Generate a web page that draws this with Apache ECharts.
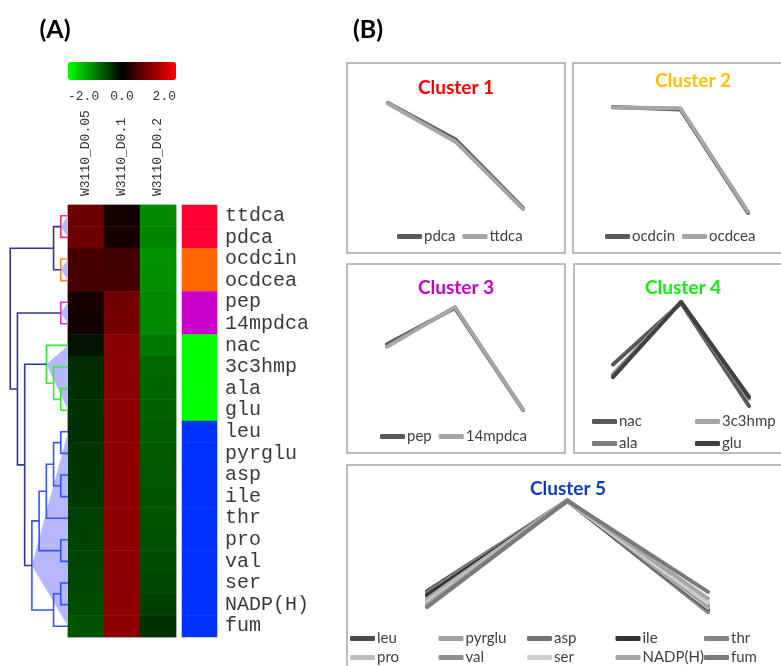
<!DOCTYPE html>
<html>
<head>
<meta charset="utf-8">
<script src="https://cdn.jsdelivr.net/npm/echarts@6/dist/echarts.min.js"></script>
<style>
  html, body { margin: 0; padding: 0; background: #fff; }
  #main { width: 781px; height: 666px; }
</style>
</head>
<body>
<div id="main"></div>
<script>
// ---- data ----
const metabolites = ['ttdca', 'pdca', 'ocdcin', 'ocdcea', 'pep', '14mpdca', 'nac', '3c3hmp', 'ala', 'glu',
  'leu', 'pyrglu', 'asp', 'ile', 'thr', 'pro', 'val', 'ser', 'NADP(H)', 'fum'];
const conditions = ['W3110_D0.05', 'W3110_D0.1', 'W3110_D0.2'];
const valD005 = [0.84, 0.85, 0.56, 0.55, 0.19, 0.14, -0.14, -0.33, -0.36, -0.39,
  -0.38, -0.41, -0.42, -0.45, -0.50, -0.52, -0.55, -0.56, -0.60, -0.64];
const valD01 = [0.15, 0.19, 0.52, 0.54, 0.89, 0.91, 1.08, 1.10, 1.10, 1.10,
  1.10, 1.11, 1.10, 1.09, 1.10, 1.11, 1.10, 1.09, 1.10, 1.10];
const valD02 = [-1.07, -1.05, -1.15, -1.13, -1.08, -1.07, -0.96, -0.82, -0.80, -0.78,
  -0.72, -0.71, -0.69, -0.67, -0.66, -0.64, -0.61, -0.58, -0.50, -0.39];
const clusterOf = [1, 1, 2, 2, 3, 3, 4, 4, 4, 4, 5, 5, 5, 5, 5, 5, 5, 5, 5, 5];
const scaleTicks = [-2, 0, 2];

const clusterNames = ['Cluster 1', 'Cluster 2', 'Cluster 3', 'Cluster 4', 'Cluster 5'];
const clusterBarColors = ['#ff0033', '#ff6600', '#cc00cc', '#00ff00', '#0033ff'];
const clusterTitleColors = ['#ff0000', '#ffc000', '#cc00cc', '#11ee11', '#0d3ac0'];
const panelMembers = [
  ['pdca', 'ttdca'],
  ['ocdcin', 'ocdcea'],
  ['pep', '14mpdca'],
  ['nac', '3c3hmp', 'ala', 'glu'],
  ['leu', 'pyrglu', 'asp', 'ile', 'thr', 'pro', 'val', 'ser', 'NADP(H)', 'fum']
];
const lineColors = {
  pdca: '#595959', ttdca: '#a6a6a6', ocdcin: '#595959', ocdcea: '#a6a6a6',
  pep: '#595959', '14mpdca': '#a6a6a6', nac: '#595959', '3c3hmp': '#a6a6a6', ala: '#7f7f7f', glu: '#404040',
  leu: '#4a4a4a', pyrglu: '#a0a0a0', asp: '#737373', ile: '#333333', thr: '#858585',
  pro: '#bdbdbd', val: '#8f8f8f', ser: '#cccccc', 'NADP(H)': '#a6a6a6', fum: '#7a7a7a'
};

// hierarchical clustering of the rows: [left, right, height, branch]; leaves 0..19, merges numbered from 20
const linkage = [
  [0, 1, 1, 'c1'],      // 20
  [2, 3, 1, 'c2'],      // 21
  [20, 21, 2, 'root'],  // 22
  [4, 5, 1, 'c3'],      // 23
  [8, 9, 1, 'c4'],      // 24
  [7, 24, 2, 'c4'],     // 25
  [6, 25, 3, 'c4'],     // 26
  [10, 11, 1, 'c5'],    // 27
  [12, 13, 1, 'c5'],    // 28
  [27, 28, 2, 'c5'],    // 29
  [29, 14, 3, 'c5'],    // 30
  [15, 16, 1, 'c5'],    // 31
  [30, 31, 4, 'c5'],    // 32
  [17, 18, 1, 'c5'],    // 33
  [33, 19, 2, 'c5'],    // 34
  [32, 34, 5, 'c5'],    // 35
  [26, 35, 6, 'root'],  // 36
  [23, 36, 7, 'root'],  // 37
  [22, 37, 8, 'root']   // 38
];
const clusterNodes = [20, 21, 23, 26, 35];
const branchColors = { c1: '#ff3366', c2: '#ff8833', c3: '#dd33dd', c4: '#33ee33', c5: '#3355ff', root: '#333399' };

// ---- derived node geometry (data space) ----
const nLeaf = metabolites.length;
const nodeH = [], nodeY = [], nodeLo = [], nodeHi = [];
for (let i = 0; i < nLeaf; i++) { nodeH[i] = 0; nodeY[i] = i; nodeLo[i] = i; nodeHi[i] = i; }
linkage.forEach((m, k) => {
  const id = nLeaf + k;
  nodeH[id] = m[2];
  nodeY[id] = (nodeY[m[0]] + nodeY[m[1]]) / 2;
  nodeLo[id] = Math.min(nodeLo[m[0]], nodeLo[m[1]]);
  nodeHi[id] = Math.max(nodeHi[m[0]], nodeHi[m[1]]);
});

const MONO = 'Liberation Mono';
const SANS = 'Lato';

// ---- layout ----
const heatBox = { left: 68, top: 205, width: 108, height: 432 };
const panelGrids = [
  { left: 388, top: 103, width: 135, height: 106 },
  { left: 613, top: 107, width: 135, height: 106 },
  { left: 387, top: 307, width: 136, height: 103 },
  { left: 613, top: 302, width: 136, height: 104 },
  { left: 427, top: 500, width: 281, height: 112 }
];

const grid = [
  Object.assign({ show: true, borderColor: '#b0b0b0', borderWidth: 1 }, heatBox),
  { left: 182, top: heatBox.top, width: 35, height: heatBox.height },
  { left: 3, top: heatBox.top, width: 65, height: heatBox.height },
  { left: 68, top: 62, width: 108, height: 18 }
].concat(panelGrids);

const hidden = { show: false };
const xAxis = [
  {
    type: 'category', gridIndex: 0, data: conditions, position: 'top',
    axisLine: hidden, axisTick: hidden, splitLine: hidden,
    axisLabel: { rotate: -90, margin: 9, interval: 0, fontFamily: MONO, fontSize: 13, color: '#333' }
  },
  { type: 'category', gridIndex: 1, data: ['cluster'], show: false },
  { type: 'value', gridIndex: 2, min: 0, max: 9, inverse: true, show: false },
  {
    type: 'value', gridIndex: 3, min: scaleTicks[0], max: scaleTicks[scaleTicks.length - 1],
    interval: scaleTicks[1] - scaleTicks[0], position: 'bottom',
    axisLine: hidden, axisTick: hidden, splitLine: hidden,
    axisLabel: {
      margin: 10, fontFamily: MONO, fontSize: 13, color: '#333',
      alignMinLabel: 'left', alignMaxLabel: 'right',
      formatter: v => v.toFixed(1)
    }
  }
];
const yAxis = [
  { type: 'category', gridIndex: 0, data: metabolites, inverse: true, show: false },
  {
    type: 'category', gridIndex: 1, data: metabolites, inverse: true, position: 'right',
    axisLine: hidden, axisTick: hidden, splitLine: hidden,
    axisLabel: { margin: 8, interval: 0, fontFamily: MONO, fontSize: 20, color: '#3a3a3a' }
  },
  { type: 'value', gridIndex: 2, min: -0.5, max: nLeaf - 0.5, inverse: true, show: false },
  { type: 'value', gridIndex: 3, min: 0, max: 1, show: false }
];
panelGrids.forEach((g, p) => {
  xAxis.push({ type: 'category', gridIndex: 4 + p, data: conditions, boundaryGap: false, show: false });
  yAxis.push({ type: 'value', gridIndex: 4 + p, min: 'dataMin', max: 'dataMax', show: false });
});

// ---- series ----
const heatData = [];
metabolites.forEach((m, r) => {
  heatData.push([0, r, valD005[r]], [1, r, valD01[r]], [2, r, valD02[r]]);
});

const series = [
  {
    type: 'heatmap', xAxisIndex: 0, yAxisIndex: 0, data: heatData,
    emphasis: { disabled: true }, silent: true
  },
  {
    type: 'heatmap', xAxisIndex: 1, yAxisIndex: 1,
    data: metabolites.map((m, r) => [0, r, clusterOf[r]]),
    emphasis: { disabled: true }, silent: true
  },
  {
    // shaded wedges under each cluster's sub-tree
    type: 'custom', xAxisIndex: 2, yAxisIndex: 2, silent: true,
    data: clusterNodes.map(id => [nodeH[id], nodeY[id]]),
    renderItem(params, api) {
      const id = clusterNodes[params.dataIndex];
      const apex = api.coord([nodeH[id], nodeY[id]]);
      const a = api.coord([0, nodeLo[id]]);
      const b = api.coord([0, nodeHi[id]]);
      return { type: 'polygon', shape: { points: [apex, a, b] }, style: { fill: '#b7b7ff', stroke: null } };
    }
  },
  {
    // dendrogram branches
    type: 'custom', xAxisIndex: 2, yAxisIndex: 2, silent: true,
    data: linkage.map((m, k) => [m[2], nodeY[nLeaf + k]]),
    renderItem(params, api) {
      const [a, b, h, c] = linkage[params.dataIndex];
      const pts = [
        api.coord([nodeH[a], nodeY[a]]),
        api.coord([h, nodeY[a]]),
        api.coord([h, nodeY[b]]),
        api.coord([nodeH[b], nodeY[b]])
      ];
      return { type: 'polyline', shape: { points: pts }, style: { stroke: branchColors[c], lineWidth: 1.6, fill: null } };
    }
  }
];

panelMembers.forEach((members, p) => {
  members.forEach(name => {
    const i = metabolites.indexOf(name);
    series.push({
      type: 'line', name, xAxisIndex: 4 + p, yAxisIndex: 4 + p,
      data: [valD005[i], valD01[i], valD02[i]],
      showSymbol: false, silent: true,
      lineStyle: { width: 4, color: lineColors[name], cap: 'round', join: 'round' },
      itemStyle: { color: lineColors[name] }
    });
  });
});

// ---- legends ----
function legendRow(names, left, top) {
  return {
    data: names, left, top, orient: 'horizontal', padding: 0,
    icon: 'roundRect', itemWidth: 25, itemHeight: 5, itemGap: 7,
    selectedMode: false,
    textStyle: { fontFamily: SANS, fontSize: 15, color: '#404040', padding: [0, 0, 0, -3] }
  };
}
// legends laid out as a table: one entry per cell
function legendTable(names, cols, left0, top0, colW, rowH) {
  return names.map((n, k) => legendRow([n], left0 + (k % cols) * colW, top0 + Math.floor(k / cols) * rowH));
}
const legend = [
  legendRow(panelMembers[0], 397, 229),
  legendRow(panelMembers[1], 605, 229),
  legendRow(panelMembers[2], 380, 429)
]
  .concat(legendTable(panelMembers[3], 2, 592, 414, 103, 22))
  .concat(legendTable(panelMembers[4], 5, 350, 631, 88.5, 19));

// ---- frames, panel titles and part labels ----
const frames = [
  [347, 63, 218, 190], [573, 63, 215, 190],
  [347, 264, 218, 189], [574, 264, 214, 189],
  [347, 465, 441, 215]
];
const titlePos = [[456, 88], [693, 81], [456, 288], [683, 288], [568, 489]];
const graphic = [];
frames.forEach(f => graphic.push({
  type: 'rect', shape: { x: f[0], y: f[1], width: f[2], height: f[3] },
  style: { fill: null, stroke: '#a6a6a6', lineWidth: 1.5 }, z: 1, silent: true
}));
clusterNames.forEach((t, i) => graphic.push({
  type: 'text', x: titlePos[i][0], y: titlePos[i][1], z: 10, silent: true,
  style: { text: t, fill: clusterTitleColors[i], font: 'bold 19px ' + SANS, textAlign: 'center', textVerticalAlign: 'middle' }
}));
graphic.push(
  { type: 'text', x: 55, y: 30, silent: true, style: { text: '(A)', fill: '#000', font: 'bold 25px ' + SANS, textAlign: 'center', textVerticalAlign: 'middle' } },
  { type: 'text', x: 368, y: 30, silent: true, style: { text: '(B)', fill: '#000', font: 'bold 25px ' + SANS, textAlign: 'center', textVerticalAlign: 'middle' } }
);

const option = {
  animation: false,
  backgroundColor: '#fff',
  grid, xAxis, yAxis, series, legend, graphic,
  visualMap: [
    {
      type: 'continuous', seriesIndex: 0, min: -2, max: 2, dimension: 2,
      orient: 'horizontal', left: 68, top: 62, itemWidth: 18, itemHeight: 108,
      padding: 0, calculable: false, text: null, hoverLink: false,
      inRange: { color: ['#00ff00', '#000000', '#ff0000'] }
    },
    {
      type: 'piecewise', seriesIndex: 1, show: false, dimension: 2,
      pieces: clusterBarColors.map((c, i) => ({ value: i + 1, color: c }))
    }
  ]
};

const chart = echarts.init(document.getElementById('main'), null, { renderer: 'canvas' });
chart.setOption(option);
</script>
</body>
</html>
